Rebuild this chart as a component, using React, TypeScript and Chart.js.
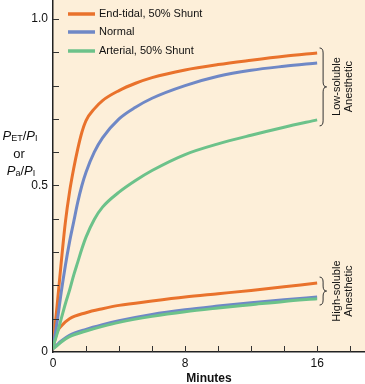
import React, { useEffect, useRef } from "react";
import { Chart, registerables } from "chart.js";

Chart.register(...registerables);

const seriesNames = ["End-tidal, 50% Shunt", "Normal", "Arterial, 50% Shunt"];
const seriesColors = ["#E9722C", "#6F88C6", "#6CC28A"];

const timesLow = [0, 0.25, 0.5, 0.75, 1, 1.25, 1.5, 1.75, 2, 2.5, 3, 4, 5, 6, 8, 10, 12, 14, 16];
const endTidalLow = [0.015, 0.14, 0.27, 0.39, 0.48, 0.55, 0.61, 0.66, 0.695, 0.73, 0.755, 0.785, 0.807, 0.824, 0.847, 0.863, 0.876, 0.888, 0.898];
const normalLow = [0.015, 0.09, 0.18, 0.26, 0.33, 0.39, 0.45, 0.5, 0.54, 0.6, 0.643, 0.7, 0.735, 0.762, 0.8, 0.828, 0.846, 0.858, 0.868];
const arterialLow = [0.015, 0.055, 0.1, 0.145, 0.185, 0.23, 0.27, 0.31, 0.345, 0.398, 0.435, 0.48, 0.515, 0.545, 0.593, 0.625, 0.651, 0.675, 0.697];

const timesHigh = [0, 0.25, 0.5, 1, 2, 3, 4, 6, 8, 10, 12, 14, 16];
const endTidalHigh = [0.015, 0.06, 0.078, 0.1, 0.118, 0.13, 0.14, 0.153, 0.165, 0.175, 0.185, 0.196, 0.207];
const normalHigh = [0.01, 0.022, 0.033, 0.05, 0.068, 0.082, 0.094, 0.113, 0.127, 0.138, 0.148, 0.157, 0.165];
const arterialHigh = [0.01, 0.019, 0.03, 0.046, 0.063, 0.077, 0.089, 0.107, 0.121, 0.132, 0.142, 0.152, 0.16];

const xTickLabels = [0, 8, 16];
const yTickLabels = [0, 0.5, 1.0];

const FONT = "'Liberation Sans', Arial, Helvetica, sans-serif";

function pts(xs: number[], ys: number[]) {
  return xs.map((x, i) => ({ x, y: ys[i] }));
}

function drawBrace(ctx: CanvasRenderingContext2D, x: number, yTop: number, yBot: number, w: number) {
  const yMid = (yTop + yBot) / 2;
  const r = Math.min(5, (yBot - yTop) / 5);
  const xm = x + w / 2;
  ctx.beginPath();
  ctx.moveTo(x, yTop);
  ctx.quadraticCurveTo(xm, yTop, xm, yTop + r);
  ctx.lineTo(xm, yMid - r);
  ctx.quadraticCurveTo(xm, yMid, x + w, yMid);
  ctx.quadraticCurveTo(xm, yMid, xm, yMid + r);
  ctx.lineTo(xm, yBot - r);
  ctx.quadraticCurveTo(xm, yBot, x, yBot);
  ctx.stroke();
}

type Part = { t: string; italic?: boolean; sub?: boolean };

function drawRich(ctx: CanvasRenderingContext2D, parts: Part[], cx: number, y: number) {
  const fontFor = (p: Part) => `${p.italic ? "italic " : ""}${p.sub ? 9 : 13}px ${FONT}`;
  let total = 0;
  parts.forEach((p) => {
    ctx.font = fontFor(p);
    total += ctx.measureText(p.t).width;
  });
  let x = cx - total / 2;
  parts.forEach((p) => {
    ctx.font = fontFor(p);
    ctx.fillText(p.t, x, p.sub ? y + 3 : y);
    x += ctx.measureText(p.t).width;
  });
}

const customPlugin = {
  id: "custom",
  beforeDraw(chart: any) {
    const { ctx, chartArea } = chart;
    ctx.save();
    ctx.fillStyle = "#FDEFD9";
    ctx.fillRect(chartArea.left, chartArea.top, chartArea.right - chartArea.left, chartArea.bottom - chartArea.top);
    ctx.restore();
  },
  afterDraw(chart: any) {
    const { ctx, chartArea } = chart;
    const xs = chart.scales.x;
    const ys = chart.scales.y;
    ctx.save();
    // inward tick marks
    ctx.strokeStyle = "#333";
    ctx.lineWidth = 1;
    for (let v = 2; v <= 18; v += 2) {
      const px = Math.round(xs.getPixelForValue(v)) + 0.5;
      ctx.beginPath();
      ctx.moveTo(px, chartArea.bottom);
      ctx.lineTo(px, chartArea.bottom - 6);
      ctx.stroke();
    }
    for (let i = 1; i <= 10; i++) {
      const py = Math.round(ys.getPixelForValue(i / 10)) + 0.5;
      ctx.beginPath();
      ctx.moveTo(chartArea.left, py);
      ctx.lineTo(chartArea.left + 6, py);
      ctx.stroke();
    }

    // legend
    ctx.textBaseline = "middle";
    ctx.textAlign = "left";
    ctx.font = `11px ${FONT}`;
    const legendY = [14, 32, 51];
    seriesNames.forEach((name, i) => {
      ctx.strokeStyle = seriesColors[i];
      ctx.lineWidth = 3.5;
      ctx.beginPath();
      ctx.moveTo(68, legendY[i]);
      ctx.lineTo(95, legendY[i]);
      ctx.stroke();
      ctx.fillStyle = "#111";
      ctx.fillText(name, 99, legendY[i]);
    });

    // braces
    ctx.strokeStyle = "#333";
    ctx.lineWidth = 1;
    const bx = xs.getPixelForValue(16.15);
    drawBrace(ctx, bx, ys.getPixelForValue(0.913), ys.getPixelForValue(0.679), 7);
    drawBrace(ctx, bx, ys.getPixelForValue(0.225), ys.getPixelForValue(0.141), 7);

    // brace labels rotated
    ctx.fillStyle = "#111";
    ctx.font = `11px ${FONT}`;
    ctx.textAlign = "center";
    const drawRot = (text: string, x: number, y: number) => {
      ctx.save();
      ctx.translate(x, y);
      ctx.rotate(-Math.PI / 2);
      ctx.fillText(text, 0, 0);
      ctx.restore();
    };
    const lowMid = ys.getPixelForValue(0.797);
    const highMid = ys.getPixelForValue(0.183);
    drawRot("Low-soluble", 337, lowMid);
    drawRot("Anesthetic", 349, lowMid);
    drawRot("High-soluble", 337, highMid);
    drawRot("Anesthetic", 349, highMid);

    // y title
    ctx.textAlign = "left";
    ctx.textBaseline = "middle";
    drawRich(ctx, [{ t: "P", italic: true }, { t: "ET", sub: true }, { t: "/" }, { t: "P", italic: true }, { t: "I", sub: true }], 20, 136);
    drawRich(ctx, [{ t: "or" }], 19, 154);
    drawRich(ctx, [{ t: "P", italic: true }, { t: "a", sub: true }, { t: "/" }, { t: "P", italic: true }, { t: "I", sub: true }], 21, 171);

    // x title
    ctx.font = `bold 12px ${FONT}`;
    ctx.textAlign = "center";
    ctx.fillText("Minutes", (chartArea.left + chartArea.right) / 2, 379);
    ctx.restore();
  },
};

export default function App() {
  const ref = useRef<HTMLCanvasElement>(null);
  useEffect(() => {
    if (!ref.current) return;
    const mk = (label: string, xs: number[], ys: number[], color: string) => ({
      label,
      data: pts(xs, ys),
      borderColor: color,
      backgroundColor: color,
      borderWidth: 3,
      pointRadius: 0,
      cubicInterpolationMode: "monotone" as const,
      fill: false,
    });
    const zeroPad = (s: any) => {
      s.paddingTop = 0;
      s.paddingBottom = 0;
      s.paddingLeft = 0;
      s.paddingRight = 0;
    };
    const chart = new Chart(ref.current, {
      type: "line",
      data: {
        datasets: [
          mk(seriesNames[2], timesLow, arterialLow, seriesColors[2]),
          mk(seriesNames[1], timesLow, normalLow, seriesColors[1]),
          mk(seriesNames[0], timesLow, endTidalLow, seriesColors[0]),
          mk(seriesNames[2] + " (high)", timesHigh, arterialHigh, seriesColors[2]),
          mk(seriesNames[1] + " (high)", timesHigh, normalHigh, seriesColors[1]),
          mk(seriesNames[0] + " (high)", timesHigh, endTidalHigh, seriesColors[0]),
        ],
      },
      options: {
        animation: false,
        responsive: false,
        maintainAspectRatio: false,
        layout: { padding: 0 },
        plugins: { legend: { display: false }, tooltip: { enabled: false } },
        scales: {
          x: {
            type: "linear",
            min: 0,
            max: 18.9,
            afterFit: (s: any) => {
              s.height = 32;
              zeroPad(s);
            },
            ticks: {
              stepSize: 2,
              autoSkip: false,
              maxRotation: 0,
              padding: 4,
              color: "#111",
              font: { family: FONT, size: 12 },
              callback: (v: any) => (xTickLabels.includes(Number(v)) ? String(v) : ""),
            },
            grid: { display: true, drawOnChartArea: false, drawTicks: false },
            border: { display: true, color: "#222", width: 1.5 },
          },
          y: {
            type: "linear",
            min: 0,
            max: 1.057,
            afterFit: (s: any) => {
              s.width = 53;
              zeroPad(s);
            },
            ticks: {
              stepSize: 0.1,
              autoSkip: false,
              padding: 5,
              color: "#111",
              font: { family: FONT, size: 12 },
              callback: (v: any) => {
                const n = Math.round(Number(v) * 10) / 10;
                if (Math.abs(Number(v) - n) > 1e-6) return "";
                if (!yTickLabels.includes(n)) return "";
                return n === 0 ? "0" : n.toFixed(1);
              },
            },
            grid: { display: true, drawOnChartArea: false, drawTicks: false },
            border: { display: true, color: "#222", width: 1.5 },
          },
        },
      },
      plugins: [customPlugin],
    });
    return () => chart.destroy();
  }, []);
  return (
    <div style={{ position: "fixed", left: 0, top: 0, width: 365, height: 384, background: "#fff" }}>
      <canvas ref={ref} width={365} height={384} style={{ width: 365, height: 384 }} />
    </div>
  );
}
